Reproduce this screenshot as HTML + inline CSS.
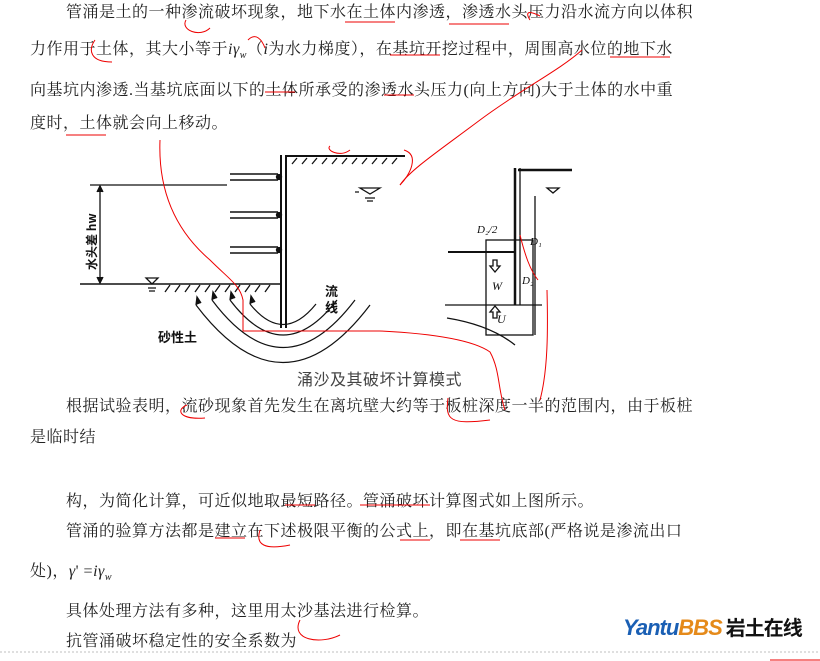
<!DOCTYPE html>
<html><head><meta charset="utf-8"><style>
body{margin:0;width:820px;height:661px;background:#fff;position:relative;overflow:hidden;font-family:"Liberation Serif","Noto Serif CJK SC","Noto Sans CJK SC",serif;color:#222}
.t{position:absolute;white-space:nowrap;font-size:16px;letter-spacing:0.5px;line-height:20px}
svg{position:absolute;left:0;top:0}
</style></head><body>
<div class="t" style="left:66px;top:3px">管涌是土的一种渗流破坏现象，地下水在土体内渗透，渗透水头压力沿水流方向以体积</div>
<div class="t" style="left:30px;top:40px">力作用于土体，其大小等于<i>iγ</i><sub style="font-size:10px"><i>w</i></sub>（<i>i</i>为水力梯度），在基坑开挖过程中，周围高水位的地下水</div>
<div class="t" style="left:30px;top:81px">向基坑内渗透.当基坑底面以下的土体所承受的渗透水头压力(向上方向)大于土体的水中重</div>
<div class="t" style="left:30px;top:114px">度时，土体就会向上移动。</div>
<div class="t" style="left:297px;top:368px;font-family:'Noto Sans CJK SC',sans-serif;color:#444">涌沙及其破坏计算模式</div>
<div class="t" style="left:66px;top:397px">根据试验表明，流砂现象首先发生在离坑壁大约等于板桩深度一半的范围内，由于板桩</div>
<div class="t" style="left:30px;top:428px">是临时结</div>
<div class="t" style="left:66px;top:492px">构，为简化计算，可近似地取最短路径。管涌破坏计算图式如上图所示。</div>
<div class="t" style="left:66px;top:522px">管涌的验算方法都是建立在下述极限平衡的公式上，即在基坑底部(严格说是渗流出口</div>
<div class="t" style="left:30px;top:562px">处)，<i>γ</i>' =<i>iγ</i><sub style="font-size:10px"><i>w</i></sub></div>
<div class="t" style="left:66px;top:602px">具体处理方法有多种，这里用太沙基法进行检算。</div>
<div class="t" style="left:66px;top:632px">抗管涌破坏稳定性的安全系数为</div>
<div style="position:absolute;left:623px;top:612px;font:italic bold 22px 'Liberation Sans',sans-serif;color:#1a5fb4;letter-spacing:-1px">Yantu<span style="color:#e58a1a">BBS</span><span style="font-family:'Noto Sans CJK SC',sans-serif;color:#111;font-style:normal;font-size:20px;margin-left:4px">岩土在线</span></div>
<svg width="820" height="661" fill="none" stroke="#111" stroke-width="1.3">
<line x1="0" y1="652" x2="820" y2="652" stroke="#ccc" stroke-dasharray="2 2"/>
<line x1="281" y1="155" x2="281" y2="328" stroke-width="2"/><line x1="286" y1="155" x2="286" y2="328" stroke-width="2"/>
<line x1="287" y1="156" x2="405" y2="156" stroke-width="2"/>
<path d="M292 164l5-6M302 164l5-6M312 164l5-6M322 164l5-6M332 164l5-6M342 164l5-6M352 164l5-6M362 164l5-6M372 164l5-6M382 164l5-6M392 164l5-6"/>
<path d="M230 174h48M230 180h48M230 212h48M230 218h48M230 247h48M230 253h48" stroke-width="1.5"/>
<circle cx="279" cy="177" r="2.5" fill="#111"/><circle cx="279" cy="215" r="2.5" fill="#111"/><circle cx="279" cy="250" r="2.5" fill="#111"/>
<line x1="90" y1="185" x2="227" y2="185"/>
<line x1="100" y1="186" x2="100" y2="283"/><path d="M97 192l3-6 3 6M97 277l3 6 3-6" fill="#111"/>
<line x1="80" y1="284" x2="280" y2="284" stroke-width="1.5"/>
<path d="M165 292l5-7M175 292l5-7M185 292l5-7M195 292l5-7M205 292l5-7M215 292l5-7M225 292l5-7M235 292l5-7M245 292l5-7M255 292l5-7M265 292l5-7"/>
<path d="M146 278h12l-6 6z M148 288h8M149 291h6"/>
<path d="M360 188h20l-10 6zM365 198h10M367 201h6M355 192h4"/>
<path d="M196 305 Q283 420 370 305M212 300 Q283 395 355 300M230 300 Q283 370 337 300M250 304 Q283 345 316 304" stroke-width="1.2"/>
<path d="M196 305l1-8 4 6M212 300l1-8 4 6M230 300l1-8 4 6M250 304l1-8 4 6" fill="#111"/>
<text x="325" y="296" font-size="13" fill="#111" stroke="none" font-family="Noto Sans CJK SC" font-weight="bold">流</text>
<text x="325" y="312" font-size="13" fill="#111" stroke="none" font-family="Noto Sans CJK SC" font-weight="bold">线</text>
<text x="158" y="342" font-size="13" fill="#111" stroke="none" font-family="Noto Sans CJK SC" font-weight="bold">砂性土</text>
<text transform="translate(96,270) rotate(-90)" font-size="12" fill="#111" stroke="none" font-family="Noto Sans CJK SC" font-weight="bold">水头差 hw</text>
<line x1="515" y1="168" x2="515" y2="305" stroke-width="2.5"/><line x1="520" y1="168" x2="520" y2="305"/>
<line x1="518" y1="170" x2="572" y2="170" stroke-width="2.5"/>
<line x1="448" y1="252" x2="515" y2="252" stroke-width="2"/>
<path d="M547 188h12l-6 5z"/><line x1="535" y1="196" x2="535" y2="335"/>
<rect x="486" y="240" width="47" height="95"/>
<line x1="445" y1="305" x2="542" y2="305"/>
<path d="M447 318 Q490 325 515 345"/>
<text x="477" y="233" font-size="11" fill="#111" stroke="none" font-style="italic">D₂/2</text>
<text x="530" y="245" font-size="11" fill="#111" stroke="none" font-style="italic">D₁</text>
<text x="522" y="284" font-size="11" fill="#111" stroke="none" font-style="italic">D₂</text>
<text x="492" y="290" font-size="12" fill="#111" stroke="none" font-style="italic">W</text>
<text x="497" y="323" font-size="12" fill="#111" stroke="none" font-style="italic">U</text>
<path d="M493 260v6h-3l5 6 5-6h-3v-6zM493 318v-6h-3l5-6 5 6h-3v6z"/>
<g stroke="#e00" stroke-width="1">
<path d="M160 140 C158 190 175 230 210 260 C230 280 240 285 243 300 L243 331 L380 331 C420 333 470 338 490 352 C500 370 498 390 505 410"/>
<path d="M582 50 C560 70 520 90 480 120 C440 150 410 170 400 185"/>
<path d="M547 290 C548 330 548 370 540 400"/>
<path d="M404 150 C420 155 410 175 400 185"/>
<path d="M520 235 C525 255 530 270 538 280"/>
<path d="M186 20 C180 30 200 38 210 28M95 40 C88 50 90 62 112 62M248 40 C256 32 262 40 265 48M530 20 C525 12 528 10 540 16"/>
<path d="M345 22h50M449 24h60M390 55h50M610 57h60M265 92h30M384 95h30M66 135h40M330 146 C325 150 340 158 350 150M187 405 C175 410 180 420 205 418M448 398 C445 420 450 425 490 420M400 505h30M285 505h30M360 505h60M215 538h30M260 530 C255 545 265 550 290 545M400 540h30M460 540h40M300 620 C290 640 320 645 340 635"/>
<path d="M770 660h50"/>
</g>
</svg>
</body></html>
